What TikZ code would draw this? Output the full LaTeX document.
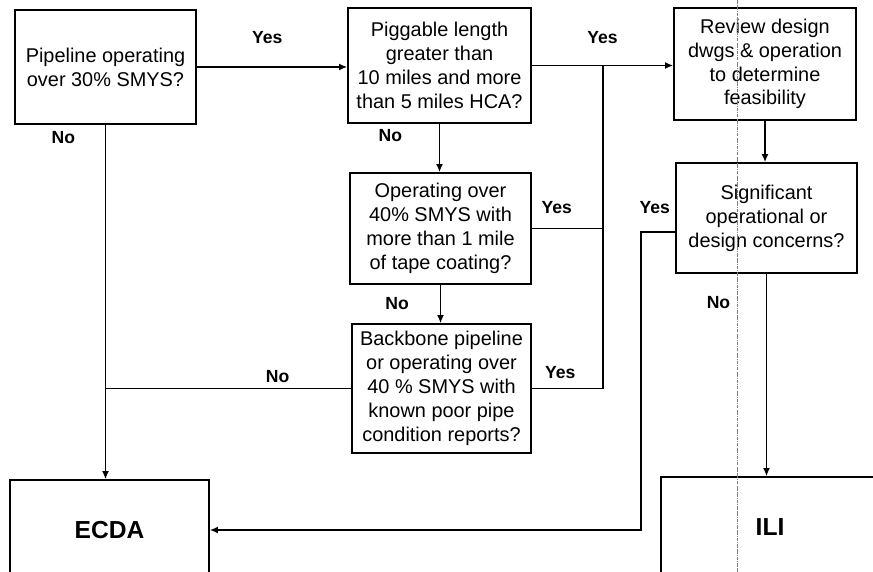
\documentclass[tikz,border=0pt]{standalone}
\usepackage{fontspec}
\setmainfont{Liberation Sans}
\usetikzlibrary{positioning, arrows.meta}

\begin{document}
\begin{tikzpicture}[
  x=0.03cm, y=-0.03cm,
  box/.style={rectangle, draw, line width=1.3pt, minimum width=5.45cm, inner sep=0pt, align=center, font=\fontsize{17}{20.4}\selectfont},
  endbox/.style={rectangle, draw, line width=1.3pt, minimum height=3cm, inner sep=0pt, font=\fontsize{21}{24}\selectfont\bfseries},
  lbl/.style={font=\fontsize{15}{17}\selectfont\bfseries, inner sep=0pt},
  link/.style={line width=1.4pt},
  >={Latex[length=7pt, width=6pt]}
]
\clip (0,0) rectangle (873,572);

% question boxes
\node[box, minimum width=5.43cm, minimum height=3.42cm] (q30) at (105.5,67) {Pipeline operating\\over 30\% SMYS?};
\node[box, minimum width=5.49cm, minimum height=3.45cm] (pig) at (439.5,65.5) {Piggable length\\greater than\\10 miles and more\\than 5 miles HCA?};
\node[box, minimum width=5.43cm, minimum height=3.33cm] (op40) at (440.5,228.5) {Operating over\\40\% SMYS with\\more than 1 mile\\of tape coating?};
\node[box, minimum width=5.37cm, minimum height=3.87cm] (bb) at (441.5,388.5) {Backbone pipeline\\or operating over\\40 \% SMYS with\\known poor pipe\\condition reports?};
\node[box, minimum width=5.46cm, minimum height=3.36cm] (rev) at (765,64) {Review design\\dwgs \& operation\\to determine\\feasibility};
\node[box, minimum width=5.43cm, minimum height=3.30cm] (sig) at (766.5,218) {Significant\\operational or\\design concerns?};

% outcomes
\node[endbox, minimum width=5.97cm] (ecda) at (109.5,530) {ECDA};
\node[endbox, minimum width=6.54cm] (ili) at (770,527) {ILI};

\coordinate (jn) at (603,65.5);

\draw[link, ->] (q30.east) -- (q30.east -| pig.west) node[lbl, midway, xshift=-4pt, yshift=25pt] {Yes};
\draw[link, ->] (pig.east) -- (pig.east -| rev.west) node[lbl, midway, yshift=24pt] {Yes};
\draw[link, ->] (pig.south) -- (pig.south |- op40.north) node[lbl, midway, xshift=-42pt, yshift=11pt] {No};
\draw[link, ->] (op40.south) -- (op40.south |- bb.north) node[lbl, midway, xshift=-37pt] {No};
\draw[link] (op40.east) -- (op40.east -| jn) node[lbl, midway, xshift=-9pt, yshift=18pt] {Yes};
\draw[link] (bb.east) -| (jn) node[lbl, pos=0.25, xshift=-6pt, yshift=14pt] {Yes};
\draw[link, ->] (q30.south) -- (q30.south |- ecda.north) node[lbl, pos=0.037, xshift=-36pt] {No};
\draw[link] (bb.west) -- (bb.west -| q30.south) node[lbl, midway, xshift=42pt, yshift=10pt] {No};
\draw[link, ->] (rev.south) -- (rev.south |- sig.north);
\draw[link, ->] ([yshift=-12pt]sig.west) -- ++(-34,0) node[lbl, midway, xshift=-3pt, yshift=21pt] {Yes} |- (ecda.east);
\draw[link, ->] (sig.south) -- (sig.south |- ili.north) node[lbl, pos=0.14, xshift=-41pt] {No};

% fold line of the scan
\draw[gray, densely dashdotted, line width=0.4pt] (737,0) -- (737,572);
\end{tikzpicture}
\end{document}
